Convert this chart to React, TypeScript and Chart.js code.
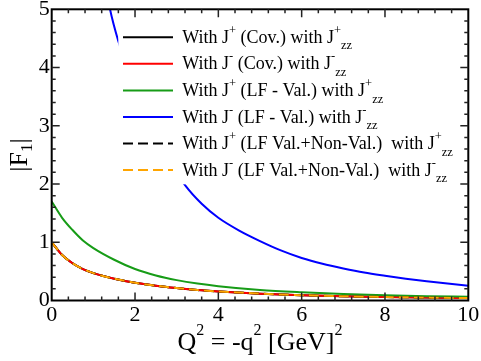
import React, { useEffect, useRef } from "react";
import { Chart, registerables } from "chart.js";

Chart.register(...registerables);

// Q^2 grid used for the covariant / LF curves
const q2 = [0, 0.25, 0.5, 0.75, 1, 1.5, 2, 2.5, 3, 3.5, 4, 5, 6, 7, 8, 9, 10];
// |F1| with J+ (Cov.) with J+zz
const f1CovPlus = [1.0, 0.78, 0.64, 0.54, 0.47, 0.375, 0.305, 0.255, 0.215, 0.18, 0.155, 0.118, 0.092, 0.073, 0.06, 0.05, 0.042];
// |F1| with J- (Cov.) with J-zz
const f1CovMinus = [1.0, 0.78, 0.64, 0.54, 0.47, 0.375, 0.305, 0.255, 0.215, 0.18, 0.155, 0.118, 0.092, 0.073, 0.06, 0.05, 0.042];
// |F1| with J+ (LF - Val.) with J+zz
const f1LFValPlus = [1.7, 1.42, 1.21, 1.03, 0.9, 0.7, 0.54, 0.43, 0.35, 0.29, 0.245, 0.18, 0.14, 0.11, 0.09, 0.075, 0.065];
// |F1| with J- (LF - Val.) with J-zz
const q2Blue = [1.3, 1.4, 1.6, 2.0, 2.4, 2.8, 3.2, 3.6, 4.0, 4.5, 5, 5.5, 6, 6.5, 7, 7.5, 8, 8.5, 9, 9.5, 10];
const f1LFValMinus = [5.4, 5.0, 4.45, 3.6, 2.95, 2.42, 1.98, 1.66, 1.42, 1.2, 1.02, 0.86, 0.73, 0.63, 0.55, 0.48, 0.425, 0.375, 0.33, 0.29, 0.255];
// |F1| with J+ (LF Val.+Non-Val.) with J+zz
const f1LFAllPlus = [1.0, 0.78, 0.64, 0.54, 0.47, 0.375, 0.305, 0.255, 0.215, 0.18, 0.155, 0.118, 0.092, 0.073, 0.06, 0.05, 0.042];
// |F1| with J- (LF Val.+Non-Val.) with J-zz
const f1LFAllMinus = [1.0, 0.78, 0.64, 0.54, 0.47, 0.375, 0.305, 0.255, 0.215, 0.18, 0.155, 0.118, 0.092, 0.073, 0.06, 0.05, 0.042];

const xTickStep = 2;
const yTickStep = 1;

// legend label pieces: [text, kind] kind 0 = normal, 1 = superscript, -1 = subscript
const legendLabels: [string, number][][] = [
  [["With J", 0], ["+", 1], [" (Cov.) with J", 0], ["+", 1], ["zz", -1]],
  [["With J", 0], ["-", 1], [" (Cov.) with J", 0], ["-", 1], ["zz", -1]],
  [["With J", 0], ["+", 1], [" (LF - Val.) with J", 0], ["+", 1], ["zz", -1]],
  [["With J", 0], ["-", 1], [" (LF - Val.) with J", 0], ["-", 1], ["zz", -1]],
  [["With J", 0], ["+", 1], [" (LF Val.+Non-Val.)  with J", 0], ["+", 1], ["zz", -1]],
  [["With J", 0], ["-", 1], [" (LF Val.+Non-Val.)  with J", 0], ["-", 1], ["zz", -1]],
];
const colors = ["#000000", "#ff0000", "#179c17", "#0000ff", "#000000", "#ffa500"];
const dashes: number[][] = [[], [], [], [], [10, 5], [10, 5]];

const xTitle: [string, number][] = [["Q", 0], ["2", 1], [" = -q", 0], ["2", 1], [" [GeV]", 0], ["2", 1]];
const yTitle: [string, number][] = [["|F", 0], ["1", -1], ["|", 0]];

const SERIF = "'Liberation Serif', 'Times New Roman', serif";
Chart.defaults.font.family = SERIF;

function drawPieces(ctx: CanvasRenderingContext2D, pieces: [string, number][], x: number, y: number, big: number, small: number, up: number, down: number) {
  let cx = x;
  for (const [t, k] of pieces) {
    ctx.font = `${k === 0 ? big : small}px ${SERIF}`;
    const dy = k === 1 ? -up : k === -1 ? down : 0;
    ctx.fillText(t, cx, y + dy);
    cx += ctx.measureText(t).width;
  }
  return cx - x;
}
function measurePieces(ctx: CanvasRenderingContext2D, pieces: [string, number][], big: number, small: number) {
  let w = 0;
  for (const [t, k] of pieces) {
    ctx.font = `${k === 0 ? big : small}px ${SERIF}`;
    w += ctx.measureText(t).width;
  }
  return w;
}

const decorPlugin = {
  id: "decor",
  afterDatasetsDraw(chart: any) {
    const ctx: CanvasRenderingContext2D = chart.ctx;
    const { left, right, top, bottom } = chart.chartArea;
    const xs = chart.scales.x;
    const ys = chart.scales.y;
    ctx.save();
    // legend box
    ctx.fillStyle = "#ffffff";
    ctx.fillRect(118.3, 22, 340, 162.3);
    const lx0 = 123, lx1 = 173, tx = 182.3, ly0 = 37.3, ldy = 26.55;
    legendLabels.forEach((pieces, i) => {
      const y = ly0 + i * ldy;
      ctx.strokeStyle = colors[i];
      ctx.lineWidth = 2;
      ctx.setLineDash(dashes[i]);
      ctx.beginPath();
      ctx.moveTo(lx0, y);
      ctx.lineTo(lx1, y);
      ctx.stroke();
      ctx.setLineDash([]);
      ctx.fillStyle = "#000";
      ctx.textBaseline = "alphabetic";
      ctx.textAlign = "left";
      drawPieces(ctx, pieces, tx, y + 5.6, 18, 12.5, 9, 6.5);
    });

    // frame
    ctx.strokeStyle = "#000";
    ctx.lineWidth = 2;
    ctx.strokeRect(left, top, right - left, bottom - top);
    // ticks
    ctx.lineWidth = 1.5;
    ctx.strokeStyle = "#222";
    ctx.beginPath();
    for (let i = 1; i < 25; i++) {
      const v = i * 0.4;
      const px = xs.getPixelForValue(v);
      const major = Math.abs(v / xTickStep - Math.round(v / xTickStep)) < 1e-6;
      const len = major ? 8 : 4;
      ctx.moveTo(px, bottom);
      ctx.lineTo(px, bottom - len);
      ctx.moveTo(px, top);
      ctx.lineTo(px, top + len);
    }
    for (let i = 1; i < 25; i++) {
      const v = i * 0.2;
      const py = ys.getPixelForValue(v);
      const major = Math.abs(v / yTickStep - Math.round(v / yTickStep)) < 1e-6;
      const len = major ? 8 : 4;
      ctx.moveTo(left, py);
      ctx.lineTo(left + len, py);
      ctx.moveTo(right, py);
      ctx.lineTo(right - len, py);
    }
    ctx.stroke();

    // axis titles
    ctx.fillStyle = "#000";
    ctx.textBaseline = "alphabetic";
    ctx.textAlign = "left";
    const wx = measurePieces(ctx, xTitle, 26, 16);
    drawPieces(ctx, xTitle, 260 - wx / 2, 350, 26, 16, 15, 0);

    ctx.save();
    ctx.translate(27, 155);
    ctx.rotate(-Math.PI / 2);
    const wy = measurePieces(ctx, yTitle, 26, 17);
    drawPieces(ctx, yTitle, -wy / 2, 0, 26, 17, 0, 5);
    ctx.restore();
    ctx.restore();
  },
};

export default function App() {
  const ref = useRef<HTMLCanvasElement | null>(null);
  useEffect(() => {
    if (!ref.current) return;
    const mk = (xs: number[], ys: number[]) => xs.map((x, i) => ({ x, y: ys[i] }));
    const series = [
      mk(q2, f1CovPlus),
      mk(q2, f1CovMinus),
      mk(q2, f1LFValPlus),
      mk(q2Blue, f1LFValMinus),
      mk(q2, f1LFAllPlus),
      mk(q2, f1LFAllMinus),
    ];
    const orders = [5, 4, 3, 2, 1, 0];
    const chart = new Chart(ref.current, {
      type: "line",
      data: {
        datasets: series.map((d, i) => ({
          label: legendLabels[i].map((p) => p[0]).join(""),
          data: d,
          borderColor: colors[i],
          backgroundColor: colors[i],
          borderWidth: 2,
          borderDash: dashes[i],
          pointRadius: 0,
          fill: false,
          cubicInterpolationMode: "monotone",
          order: orders[i],
        })),
      },
      options: {
        animation: false,
        responsive: false,
        devicePixelRatio: 1,
        layout: { padding: { left: 0, top: 9.3, right: 12.7, bottom: 0 } },
        plugins: { legend: { display: false }, tooltip: { enabled: false } },
        scales: {
          x: {
            type: "linear",
            min: 0,
            max: 10,
            grid: { display: false, drawTicks: false },
            border: { display: false },
            ticks: {
              stepSize: xTickStep,
              padding: 2,
              color: "#000",
              maxRotation: 0,
              autoSkip: false,
              font: { family: SERIF, size: 22 },
            },
            afterFit: (s: any) => {
              s.height = 60.5;
              s.paddingLeft = 0;
              s.paddingRight = 0;
            },
          },
          y: {
            type: "linear",
            min: 0,
            max: 5,
            grid: { display: false, drawTicks: false },
            border: { display: false },
            ticks: {
              stepSize: yTickStep,
              padding: 2,
              color: "#000",
              font: { family: SERIF, size: 22 },
            },
            afterFit: (s: any) => {
              s.width = 51.7;
              s.paddingTop = 0;
              s.paddingBottom = 0;
            },
          },
        },
      },
      plugins: [decorPlugin],
    } as any);
    return () => chart.destroy();
  }, []);
  return (
    <div style={{ position: "fixed", left: 0, top: 0, width: 481, height: 361, background: "#fff" }}>
      <canvas ref={ref} width={481} height={361} style={{ width: 481, height: 361, display: "block" }} />
    </div>
  );
}
